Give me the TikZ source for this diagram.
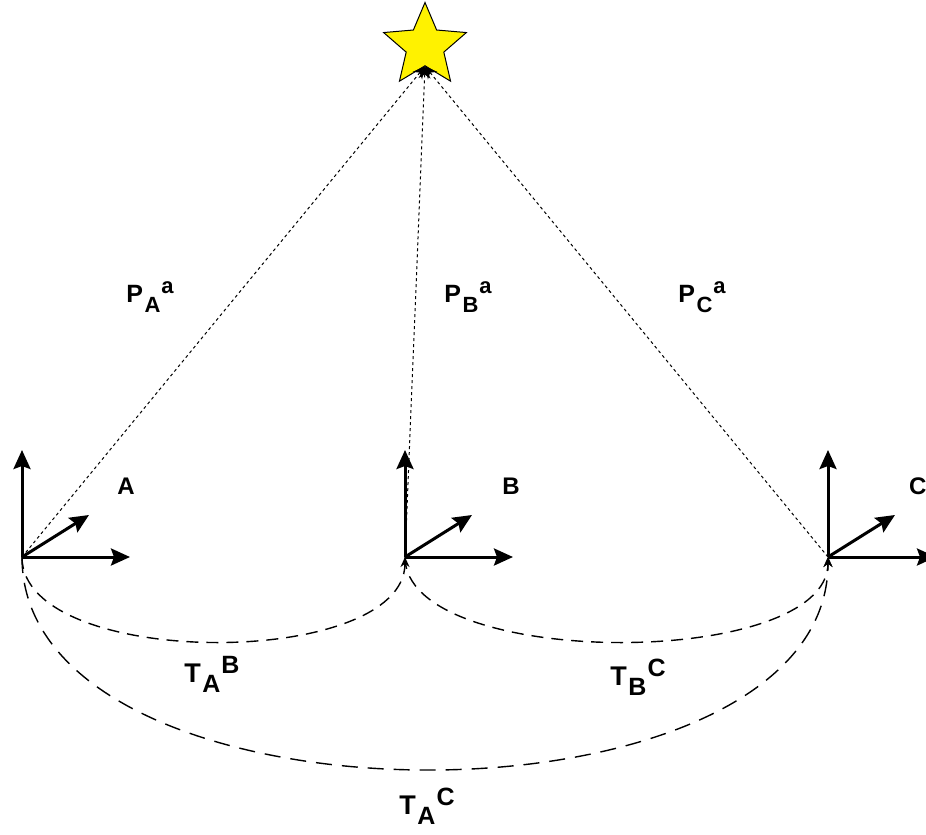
\documentclass[tikz,border=0pt]{standalone}
\usepackage{fontspec}
\setmainfont{Liberation Sans}
\usetikzlibrary{arrows.meta,shapes.geometric}
% main letter, subscript, superscript, main size, index size
\newcommand{\sublbl}[5]{\fontsize{#4}{#4}\selectfont #1\kern1.5pt\raisebox{-10pt}{\fontsize{#5}{#5}\selectfont #2}\kern1pt\raisebox{9pt}{\fontsize{#5}{#5}\selectfont #3}}

\begin{document}
\begin{tikzpicture}[x=1pt,y=-1pt,font=\bfseries,>=Stealth,
  axis/.style={line width=3pt,-{Stealth[length=19pt,width=17pt,inset=3pt]}},
  ray/.style={dash pattern=on 3pt off 3pt,line width=1pt,-{Stealth[length=12pt,width=12pt]}},
  link/.style={dash pattern=on 12pt off 8pt,line width=1.4pt,-{Stealth[length=10pt,width=9pt]}},
  frame/.style={font=\bfseries\fontsize{24}{24}\selectfont}]
  \useasboundingbox (0,0) rectangle (926,835);
  \node[star,star points=5,star point ratio=2.2,minimum size=87pt,inner sep=0pt,
    draw=black,line width=1pt,fill=yellow] (s) at (425,46) {};
  % frames
  \foreach \n/\x in {A/22,B/405,C/828}{
    \coordinate (o\n) at (\x,557);
    \coordinate (u\n) at (\x,450);
    \coordinate (r\n) at (\x+108,557);
    \coordinate (d\n) at (\x+67,515);
    \draw[axis] (o\n) -- (u\n);
    \draw[axis] (o\n) -- (r\n);
    \draw[axis] (o\n) -- (d\n);
    \draw[ray] (o\n) -- (s.inner point 3);
  }
  \node[frame] (fA) at (126,486) {A};
  \node[frame] (fB) at (511,486) {B};
  \node[frame,anchor=west,inner sep=0pt] (fC) at (909,486) {C};
  % measurements
  \node (pA) at (150,297) {\sublbl{P}{A}{a}{25}{22}};
  \node (pB) at (468,297) {\sublbl{P}{B}{a}{25}{22}};
  \node (pC) at (702,297) {\sublbl{P}{C}{a}{25}{22}};
  % transforms
  \draw[link] (oA) .. controls (22,670) and (405,670) .. (oB);
  \draw[link] (oB) .. controls (405,670) and (828,670) .. (oC);
  \draw[link,dash pattern=on 16pt off 10pt] (oA) .. controls (22,840) and (828,840) .. (oC);
  \node (tAB) at (212,674) {\sublbl{T}{A}{B}{27}{25}};
  \node (tBC) at (638,677) {\sublbl{T}{B}{C}{27}{25}};
  \node (tAC) at (427,806) {\sublbl{T}{A}{C}{27}{25}};
\end{tikzpicture}
\end{document}
